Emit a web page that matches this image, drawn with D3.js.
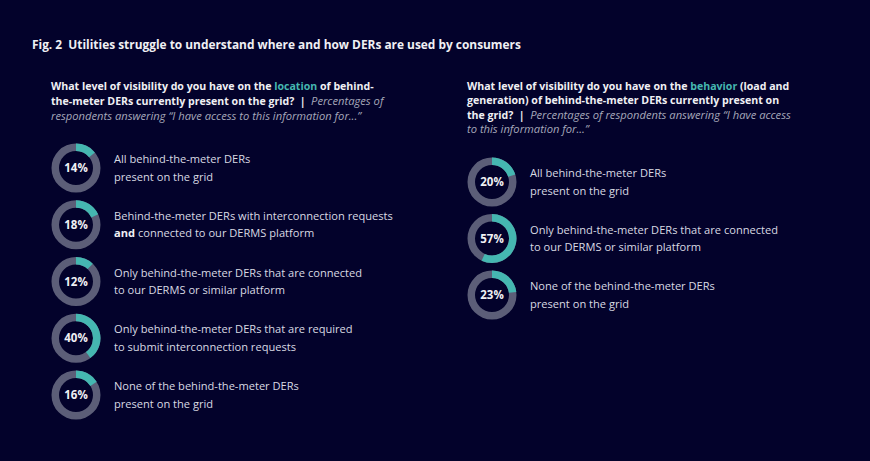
<!DOCTYPE html>
<html><head><meta charset="utf-8">
<script src="https://cdn.jsdelivr.net/npm/d3@7"></script>
<style>
html,body{margin:0;padding:0;background:#03022b;}
svg{display:block;}
text{white-space:pre;}
</style></head>
<body>
<svg id="chart" width="870" height="461"></svg>
<script>
// ---- Data ----
const title = "Fig. 2\u00A0\u00A0Utilities struggle to understand where and how DERs are used by consumers";

const leftQuestion = [
  [{t:"What level of visibility do you have on the ",s:"b"},{t:"location",s:"h"},{t:" of behind-",s:"b"}],
  [{t:"the-meter DERs currently present on the grid?\u00A0\u00A0|\u00A0\u00A0",s:"b"},{t:"Percentages of",s:"i"}],
  [{t:"respondents answering \u201CI have access to this information for...\u201D",s:"i"}]
];
const rightQuestion = [
  [{t:"What level of visibility do you have on the ",s:"b"},{t:"behavior",s:"h"},{t:" (load and",s:"b"}],
  [{t:"generation) of behind-the-meter DERs currently present on",s:"b"}],
  [{t:"the grid?\u00A0\u00A0|\u00A0\u00A0",s:"b"},{t:"Percentages of respondents answering \u201CI have access",s:"i"}],
  [{t:"to this information for...\u201D",s:"i"}]
];

const leftValues = [14, 18, 12, 40, 16];
const leftLabels = [
  ["All behind-the-meter DERs", "present on the grid"],
  ["Behind-the-meter DERs with interconnection requests", "**and** connected to our DERMS platform"],
  ["Only behind-the-meter DERs that are connected", "to our DERMS or similar platform"],
  ["Only behind-the-meter DERs that are required", "to submit interconnection requests"],
  ["None of the behind-the-meter DERs", "present on the grid"]
];
const rightValues = [20, 57, 23];
const rightLabels = [
  ["All behind-the-meter DERs", "present on the grid"],
  ["Only behind-the-meter DERs that are connected", "to our DERMS or similar platform"],
  ["None of the behind-the-meter DERs", "present on the grid"]
];

// ---- Style ----
const FONT = "'Open Sans', 'Noto Sans', sans-serif";
const C = {bg:"#03022b", teal:"#45b7b1", ring:"#5c5e78", white:"#f0f0f4", label:"#d9dae3", italic:"#a6a8ba"};

const svg = d3.select("#chart");
svg.append("rect").attr("width",870).attr("height",461).attr("fill",C.bg);

svg.append("text").attr("x",32).attr("y",49)
  .attr("font-family",FONT).attr("font-weight",700).attr("font-size",11.9)
  .attr("fill",C.white).text(title);

function question(lines, x, y0, lh){
  const t = svg.append("text").attr("font-family",FONT).attr("font-size",10.6);
  lines.forEach((segs,i)=>{
    segs.forEach((s,j)=>{
      const ts = t.append("tspan").text(s.t);
      if(j===0) ts.attr("x",x).attr("y",y0+i*lh);
      if(s.s==="b"){ts.attr("font-weight",700).attr("fill",C.white);}
      else if(s.s==="h"){ts.attr("font-weight",700).attr("fill",C.teal);}
      else {ts.attr("font-style","italic").attr("font-size",11.2).attr("fill",C.italic);}
    });
  });
}
question(leftQuestion, 51, 90, 14.8);
question(rightQuestion, 467, 90, 14.3);

const arcRing = d3.arc().innerRadius(17).outerRadius(24.5);
const scaleA = d3.scaleLinear().domain([0,100]).range([0, 2*Math.PI]);

function donutGroup(values, labels, cx, cys){
  values.forEach((v,i)=>{
    const g = svg.append("g").attr("transform",`translate(${cx},${cys[i]})`);
    g.append("path").attr("d", arcRing({startAngle:0,endAngle:2*Math.PI})).attr("fill",C.ring);
    g.append("path").attr("d", arcRing({startAngle:0,endAngle:scaleA(v)})).attr("fill",C.teal);
    g.append("text").attr("text-anchor","middle").attr("dy","0.36em")
      .attr("font-family",FONT).attr("font-weight",700).attr("font-size",11.5)
      .attr("fill",C.white).text(v+"%");
    const t = g.append("text").attr("font-family",FONT).attr("font-size",11.1).attr("fill",C.label);
    labels[i].forEach((line,k)=>{
      const parts = line.split(/(\*\*[^*]+\*\*)/).filter(p=>p.length);
      parts.forEach((p,j)=>{
        const ts = t.append("tspan");
        if(j===0) ts.attr("x",38).attr("y",-5+k*17.5);
        if(p.startsWith("**")){ts.text(p.slice(2,-2)).attr("font-weight",700).attr("fill",C.white);}
        else ts.text(p);
      });
    });
  });
}
const leftY = d3.scalePoint().domain(d3.range(leftValues.length)).range([168, 395]);
const rightY = d3.scalePoint().domain(d3.range(rightValues.length)).range([182, 295]);
donutGroup(leftValues, leftLabels, 76, d3.range(leftValues.length).map(leftY));
donutGroup(rightValues, rightLabels, 492, d3.range(rightValues.length).map(rightY));
</script>
</body></html>
